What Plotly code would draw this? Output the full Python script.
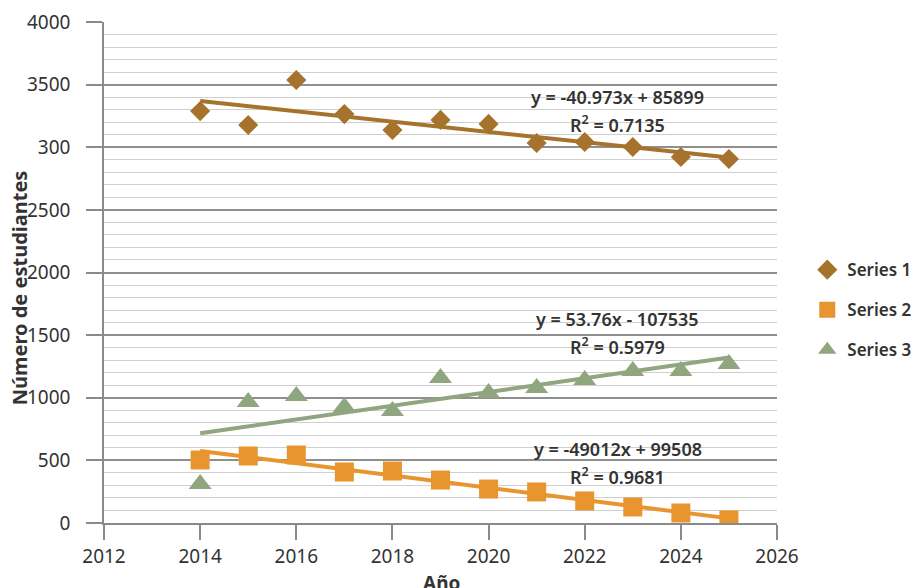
import numpy as np
import plotly.graph_objects as go

years = [2014, 2015, 2016, 2017, 2018, 2019, 2020, 2021, 2022, 2023, 2024, 2025]
series1 = [3289, 3178, 3537, 3265, 3138, 3218, 3186, 3034, 3042, 3002, 2922, 2906]
series2 = [503, 535, 543, 407, 415, 343, 271, 248, 176, 128, 80, 24]
series3 = [311, 966, 1014, 926, 894, 1158, 1038, 1078, 1142, 1214, 1214, 1270]

names = ["Series 1", "Series 2", "Series 3"]
colors = ["#A6732C", "#E8952F", "#8FA67E"]
symbols = ["diamond", "square", "triangle-up"]
sizes = [15.5, 19, 20]

eq_texts = ["y = -40.973x + 85899", "y = 53.76x - 107535", "y = -49012x + 99508"]
r2_texts = ["R<sup>2</sup> = 0.7135", "R<sup>2</sup> = 0.5979", "R<sup>2</sup> = 0.9681"]
eq_x = 2022.69
eq_y = [3401, 1629, 591]
r2_y = [3186, 1413, 375]

ytick_vals = [0, 500, 1000, 1500, 2000, 2500, 3000, 3500, 4000]
ytick_text = ["0", "500", "1000", "1500", "2000", "2500", "300", "3500", "4000"]

FONT = "Noto Sans"
TXT = "#333333"

fig = go.Figure()
all_series = [series1, series2, series3]
for i, ys in enumerate(all_series):
    coef = np.polyfit(years, ys, 1)
    xt = [years[0], years[-1]]
    yt = list(np.polyval(coef, xt))
    fig.add_trace(go.Scatter(
        x=years, y=ys, mode="markers", name=names[i], legendgroup=names[i],
        marker=dict(symbol=symbols[i], size=sizes[i], color=colors[i], line=dict(width=0)),
    ))
    fig.add_trace(go.Scatter(
        x=xt, y=yt, mode="lines", showlegend=False, hoverinfo="skip",
        line=dict(color=colors[i], width=4),
    ))

for i in range(3):
    fig.add_annotation(x=eq_x, y=eq_y[i], text=eq_texts[i], showarrow=False,
                       font=dict(family=FONT, size=18, color=TXT, weight=600))
    fig.add_annotation(x=eq_x, y=r2_y[i], text=r2_texts[i], showarrow=False,
                       font=dict(family=FONT, size=18, color=TXT, weight=600))

# axis titles as annotations
fig.add_annotation(xref="paper", yref="paper", x=-0.126, y=0.469, text="<b>Número de estudiantes</b>",
                   textangle=-90, showarrow=False, xanchor="center", yanchor="middle",
                   font=dict(family=FONT, size=20, color=TXT))
fig.add_annotation(xref="paper", yref="paper", x=0.502, y=-0.12, text="<b>Año</b>",
                   showarrow=False, xanchor="center", yanchor="middle",
                   font=dict(family=FONT, size=19, color=TXT))

fig.update_layout(
    width=920, height=588,
    margin=dict(l=104, r=143, t=22, b=65, autoexpand=False),
    paper_bgcolor="white", plot_bgcolor="white",
    font=dict(family=FONT, size=19, color=TXT),
    legend=dict(x=1.045, y=0.425, xanchor="left", yanchor="middle",
                font=dict(family=FONT, size=17, color=TXT, weight=600),
                tracegroupgap=15, itemsizing="trace"),
    xaxis=dict(range=[2012, 2026], dtick=2, tick0=2012, showgrid=False, automargin=False,
               showline=True, linecolor="#8a8a8a", linewidth=1.5,
               ticks="outside", ticklen=15, tickcolor="#8a8a8a", tickwidth=1.5,
               tickfont=dict(family=FONT, size=19, color=TXT), zeroline=False),
    yaxis=dict(range=[0, 4000], tickvals=ytick_vals, ticktext=ytick_text, automargin=False,
               showgrid=True, gridcolor="#8f8f8f", gridwidth=1.5,
               minor=dict(dtick=100, showgrid=True, gridcolor="#cfcfcf", gridwidth=1, ticks=""),
               showline=True, linecolor="#8a8a8a", linewidth=1.5,
               ticks="outside", ticklen=16, tickcolor="#8a8a8a", tickwidth=1.5,
               ticklabelstandoff=12,
               tickfont=dict(family=FONT, size=19, color=TXT), zeroline=False),
)

fig.write_html("out.html", config={"displayModeBar": False},
               post_script="document.body.style.margin='0px';")
